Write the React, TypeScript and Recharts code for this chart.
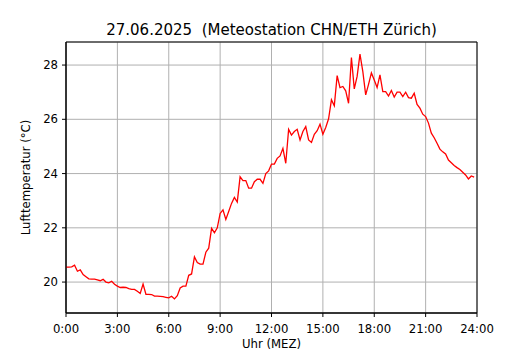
import {
  CartesianGrid,
  Line,
  LineChart,
  ReferenceArea,
  XAxis,
  YAxis,
} from "recharts";

// 10-minute readings, 0:00 .. 23:50
const temps = [
  20.55, 20.55, 20.56, 20.62, 20.40, 20.45,
  20.28, 20.20, 20.12, 20.11, 20.11, 20.08,
  20.05, 20.10, 20.00, 19.97, 20.03, 19.92,
  19.85, 19.80, 19.81, 19.80, 19.76, 19.73,
  19.73, 19.66, 19.58, 19.93, 19.55, 19.55,
  19.54, 19.48, 19.48, 19.47, 19.46, 19.44,
  19.42, 19.48, 19.38, 19.50, 19.78, 19.85,
  19.85, 20.25, 20.30, 20.93, 20.72, 20.66,
  20.66, 21.10, 21.25, 21.98, 21.82, 22.00,
  22.53, 22.66, 22.31, 22.60, 22.90, 23.12,
  22.95, 23.88, 23.74, 23.74, 23.46, 23.46,
  23.70, 23.79, 23.79, 23.64, 24.00, 24.10,
  24.35, 24.35, 24.56, 24.65, 24.93, 24.38,
  25.63, 25.42, 25.55, 25.63, 25.24, 25.55,
  25.73, 25.24, 25.15, 25.45, 25.58, 25.82,
  25.45, 25.70, 26.02, 26.72, 26.50, 27.61,
  27.17, 27.21, 27.05, 26.59, 28.28, 27.12,
  27.58, 28.40, 27.76, 26.90, 27.29, 27.71,
  27.45, 27.17, 27.64, 27.02, 27.02, 26.86,
  27.06, 26.82, 27.00, 27.00, 26.84, 27.00,
  26.80, 26.78, 26.96, 26.55, 26.41, 26.19,
  26.10, 25.86, 25.49, 25.32, 25.12, 24.90,
  24.80, 24.72, 24.50, 24.40, 24.30, 24.22,
  24.15, 24.05, 23.95, 23.80, 23.91, 23.87,
];

const xTicks = [0, 180, 360, 540, 720, 900, 1080, 1260, 1440];
const yTicks = [20, 22, 24, 26, 28];
const yMin = 18.86;
const yMax = 28.85;

const title = "27.06.2025  (Meteostation CHN/ETH Zürich)";
const xLabel = "Uhr (MEZ)";
const yLabel = "Lufttemperatur (°C)";

const data = temps.map((temp, i) => ({ minute: i * 10, temp }));

const font = "DejaVu Sans";
const tickStyle = { fill: "#000", fontSize: 11.7, fontFamily: font };

export default function App() {
  return (
    <div
      style={{
        position: "absolute",
        left: 0,
        top: 0,
        width: 530,
        height: 350,
        background: "#fff",
      }}
    >
      <LineChart
        width={530}
        height={350}
        data={data}
        margin={{ top: 42, right: 53, left: 0, bottom: 0 }}
      >
        <CartesianGrid stroke="#b0b0b0" strokeWidth={1} />
        <XAxis
          dataKey="minute"
          type="number"
          domain={[0, 1440]}
          ticks={xTicks}
          interval={0}
          height={37}
          tickSize={4}
          tickMargin={8}
          tick={tickStyle}
          tickLine={{ stroke: "#000" }}
          axisLine={{ stroke: "#000" }}
          tickFormatter={(v) => `${v / 60}:00`}
        />
        <YAxis
          type="number"
          domain={[yMin, yMax]}
          allowDataOverflow
          ticks={yTicks}
          interval={0}
          width={66}
          tickSize={4}
          tickMargin={4}
          tick={tickStyle}
          tickLine={{ stroke: "#000" }}
          axisLine={{ stroke: "#000" }}
        />
        <ReferenceArea
          x1={0}
          x2={1440}
          y1={yMin}
          y2={yMax}
          fill="none"
          stroke="#000"
          strokeWidth={1}
          fillOpacity={0}
        />
        <Line
          dataKey="temp"
          stroke="#ff0000"
          strokeWidth={1.3}
          dot={false}
          isAnimationActive={false}
        />
      </LineChart>
      <svg
        width={530}
        height={350}
        style={{ position: "absolute", left: 0, top: 0, pointerEvents: "none" }}
        fontFamily={font}
      >
        <text x={271.5} y={34.5} fontSize={15} textAnchor="middle" style={{ whiteSpace: "pre" }}>
          {title}
        </text>
        <text x={271.5} y={348} fontSize={11.7} textAnchor="middle">
          {xLabel}
        </text>
        <text
          x={30}
          y={177.5}
          fontSize={11.7}
          textAnchor="middle"
          transform="rotate(-90 30 177.5)"
        >
          {yLabel}
        </text>
      </svg>
    </div>
  );
}
